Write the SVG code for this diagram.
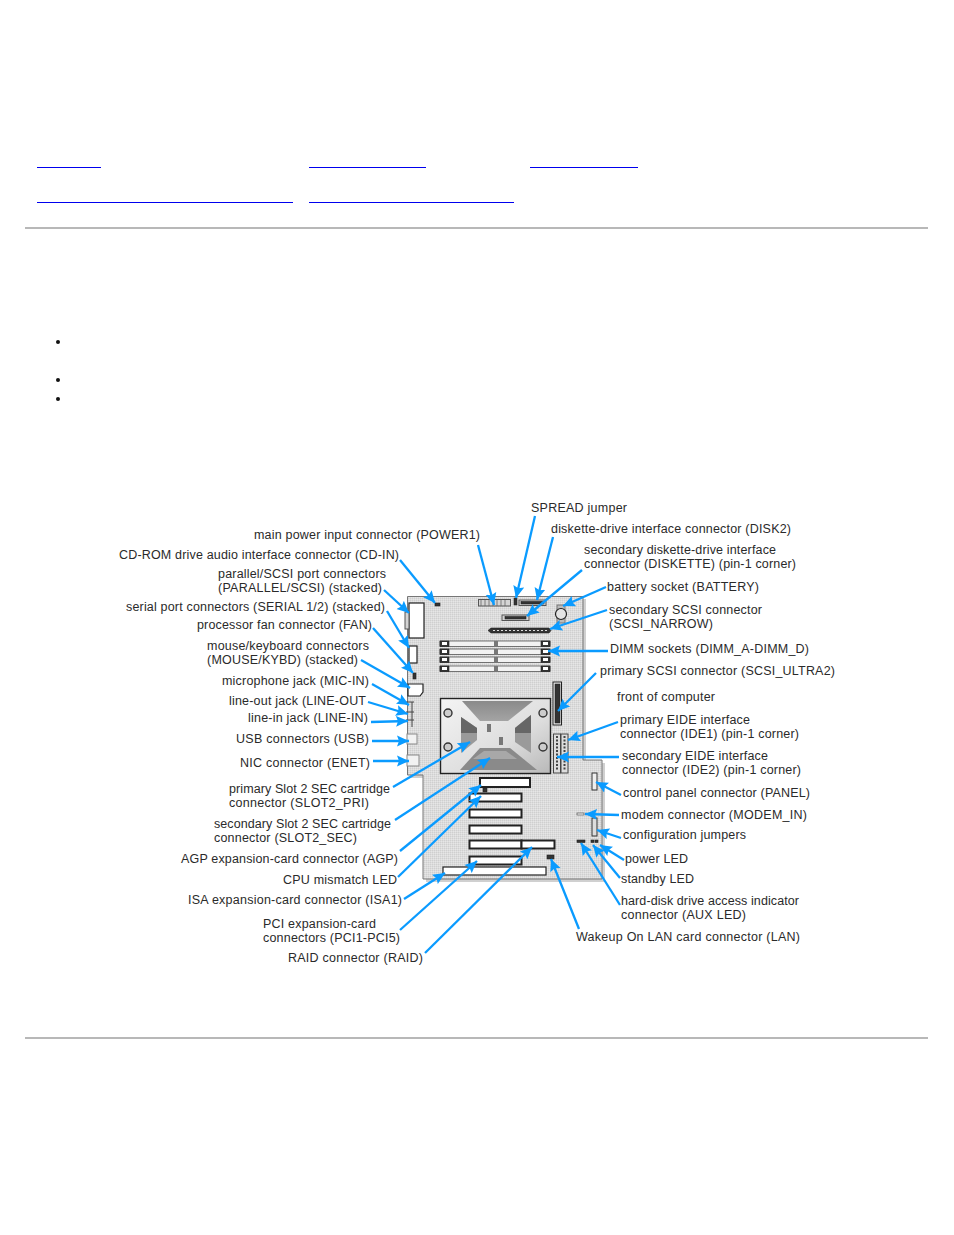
<svg xmlns="http://www.w3.org/2000/svg" width="954" height="1235" viewBox="0 0 954 1235">
<style>
.t{font-family:"Liberation Sans",Arial,sans-serif;font-size:12.5px;fill:#2a2a2a}
.c line{stroke:#0a9bff;stroke-width:2.3;marker-end:url(#a)}
.u{stroke:#0000ee;stroke-width:1;fill:none}
.hr{stroke:#a0a0a0;stroke-width:1.5}
.w{fill:#fff;stroke:#222;stroke-width:1.2}
.d{fill:#333;stroke:#222;stroke-width:.6}
.s{fill:#d4d4d4;stroke:#555;stroke-width:1}
</style>
<defs>
<marker id="a" markerUnits="userSpaceOnUse" markerWidth="13" markerHeight="12" refX="12" refY="6" orient="auto"><path d="M0,0.500L12,6L0,11.500L2,6Z" fill="#0a9bff"/></marker>
<pattern id="st" width="2" height="2" patternUnits="userSpaceOnUse"><rect width="2" height="2" fill="#dcdcdc"/><rect width="1" height="1" fill="#cfcfcf"/><rect x="1" y="1" width="1" height="1" fill="#e6e6e6"/></pattern>
<linearGradient id="sil" x1="0" y1="0" x2="1" y2="1"><stop offset="0" stop-color="#f4f4f4"/><stop offset=".6" stop-color="#dedede"/><stop offset="1" stop-color="#b8b8b8"/></linearGradient>
<linearGradient id="tr" x1="0" y1="0" x2="0" y2="1"><stop offset="0" stop-color="#8a8a8a"/><stop offset="1" stop-color="#a4a4a4"/></linearGradient>
</defs>
<rect width="954" height="1235" fill="#fff"/>
<g id="page">
<path class="u" d="M37,167.500H101M309,167.500H426M530,167.500H638M37,202.500H293M309,202.500H514"/>
<line class="hr" x1="25" y1="228" x2="928" y2="228"/>
<line class="hr" x1="25" y1="1038" x2="928" y2="1038"/>
<circle cx="58" cy="342" r="2" fill="#111"/>
<circle cx="58" cy="380" r="2" fill="#111"/>
<circle cx="58" cy="399" r="2" fill="#111"/>
</g>
<g id="board">
<path d="M410,599H586V763H605V882H426V778H410Z" fill="#d0d0d0"/>
<path d="M407.500,596.500H583V760H602V879H423V775H407.500Z" fill="url(#st)" stroke="#777" stroke-width="1"/>
<rect class="d" x="435" y="603" width="5" height="3"/>
<rect class="s" x="478.500" y="599.500" width="32" height="6.500"/>
<path d="M481,600V606M485,600V606M489,600V606M493,600V606M497,600V606M501,600V606M505,600V606" stroke="#666" stroke-width=".8"/>
<rect class="d" x="514" y="598" width="3" height="7"/>
<rect class="s" x="519" y="600" width="27" height="5.500"/><rect class="d" x="521" y="601.500" width="23" height="2.500"/>
<rect class="s" x="502" y="615" width="27" height="5.500"/><rect class="d" x="505" y="616.500" width="21" height="2.500"/>
<rect x="557" y="605" width="8" height="18" fill="#bbb" stroke="#777"/>
<circle cx="561" cy="614" r="5.500" fill="#e4e4e4" stroke="#222" stroke-width="1.200"/>
<path class="d" d="M491,628H549L551,630.500L549,633H491L488,630.500Z"/>
<path d="M493,630.500H547" stroke="#ddd" stroke-width="1" stroke-dasharray="2 2"/>
<g id="dimm-sockets">
<g fill="#f2f2f2" stroke="#555" stroke-width=".8">
<rect x="440" y="641" width="110" height="5.500"/>
<rect x="440" y="649" width="110" height="5.500"/>
<rect x="440" y="657" width="110" height="5.500"/>
<rect x="440" y="666" width="110" height="5.500"/>
</g>
<path class="d" d="M440,641h9v5.500h-9zM541,641h9v5.500h-9zM440,649h9v5.500h-9zM541,649h9v5.500h-9zM440,657h9v5.500h-9zM541,657h9v5.500h-9zM440,666h9v5.500h-9zM541,666h9v5.500h-9z"/>
<path fill="#fff" d="M442,642h5v3h-5zM543,642h5v3h-5zM442,650h5v3h-5zM543,650h5v3h-5zM442,658h5v3h-5zM543,658h5v3h-5zM442,667h5v3h-5zM543,667h5v3h-5z"/>
<path fill="#777" d="M494,641h4v6h-4zM494,649h4v6h-4zM494,657h4v6h-4zM494,666h4v6h-4z"/>
</g>
<rect x="553" y="682" width="8.500" height="43" fill="#eee" stroke="#222"/>
<rect class="d" x="555" y="684" width="5" height="39"/>
<rect x="553.500" y="734" width="7" height="39" fill="#ddd" stroke="#444"/>
<rect x="561" y="734" width="7" height="39" fill="#ddd" stroke="#444"/>
<path d="M557,736V771M564.500,736V771" stroke="#444" stroke-width="2" stroke-dasharray="2 1.500"/>
<rect class="w" x="409" y="603" width="15" height="35" stroke="#444"/>
<rect class="s" x="405" y="612" width="4" height="17"/>
<rect class="w" x="409" y="646" width="8" height="17" stroke="#777"/>
<rect class="d" x="413" y="673" width="3" height="6"/>
<path class="w" d="M408,684H423V692L420,696H408Z"/>
<path d="M406,702h8M406,712h8M406,720h8M412,702v25" stroke="#444" stroke-width="1" fill="none"/>
<rect x="407" y="734" width="10" height="10" fill="#f2f2f2" stroke="#888"/>
<rect x="407" y="755" width="12" height="11" fill="#f2f2f2" stroke="#888"/>
<g id="cpu-assembly">
<rect x="440.500" y="698.500" width="110" height="75" fill="url(#sil)" stroke="#222" stroke-width="1.400"/>
<path d="M462,701H533L508,721H480Z" fill="url(#tr)"/>
<path d="M480,748H510L537,770H460Z" fill="#8a8a8a"/>
<path d="M484,751H506L517,759H473Z" fill="#a8a8a8"/>
<path d="M461,717L477,728V740L461,753Z" fill="#9a9a9a"/>
<path d="M461,717L477,728V733H461Z" fill="#666"/>
<path d="M531,715L515,728V742L531,753Z" fill="#9a9a9a"/>
<path d="M531,715L515,728V733H531Z" fill="#666"/>
<g fill="#ccc" stroke="#333" stroke-width="1.400">
<circle cx="448" cy="713" r="4"/><circle cx="448" cy="747" r="4"/><circle cx="543" cy="713" r="4"/><circle cx="543" cy="747" r="4"/>
</g>
<rect x="487" y="724" width="4" height="8" fill="#777"/>
<rect x="499" y="737" width="4" height="8" fill="#777"/>
</g>
<g class="w" stroke-width="2">
<rect class="w" x="480" y="778" width="50" height="9" style="stroke-width:2"/>
<rect class="w" x="469.500" y="793.500" width="52" height="8" style="stroke-width:2"/>
<rect class="w" x="469.500" y="809.500" width="52" height="8" style="stroke-width:2"/>
<rect class="w" x="469.500" y="825.500" width="52" height="8" style="stroke-width:2"/>
<rect class="w" x="469.500" y="840.500" width="52" height="8" style="stroke-width:2"/>
<rect class="w" x="521.500" y="840.500" width="33" height="8" style="stroke-width:2"/>
<rect class="w" x="469.500" y="856.500" width="52" height="8" style="stroke-width:2"/>
</g>
<rect class="w" x="443" y="867" width="103" height="8"/>
<rect class="d" x="483" y="788" width="4" height="4"/>
<rect class="d" x="547" y="855" width="7" height="4"/>
<rect x="592" y="773" width="5" height="17" fill="#eee" stroke="#333"/>
<rect x="577" y="813" width="7" height="2" fill="#eee" stroke="#444" stroke-width=".6"/>
<rect x="592" y="818" width="5" height="18" fill="#ddd" stroke="#333"/>
<rect class="d" x="577" y="840" width="8" height="2.500"/>
<rect class="d" x="591" y="840" width="3" height="2.500"/>
<rect class="d" x="595" y="840" width="3" height="2.500"/>
</g>
<g id="connectors" class="c">
<line x1="478" y1="545" x2="494" y2="605"/>
<line x1="535" y1="516" x2="516" y2="598"/>
<line x1="553" y1="537" x2="537" y2="600"/>
<line x1="582" y1="570" x2="527" y2="616"/>
<line x1="606" y1="587" x2="563" y2="606"/>
<line x1="607" y1="610" x2="550" y2="629"/>
<line x1="608" y1="651" x2="548" y2="651"/>
<line x1="596" y1="673" x2="558" y2="711"/>
<line x1="618" y1="722" x2="568" y2="740"/>
<line x1="619" y1="757" x2="557" y2="757"/>
<line x1="621" y1="795" x2="596" y2="782"/>
<line x1="619" y1="815" x2="585" y2="814"/>
<line x1="621" y1="838" x2="597" y2="830"/>
<line x1="624" y1="860" x2="600" y2="845"/>
<line x1="620" y1="878" x2="593" y2="845"/>
<line x1="620" y1="905" x2="581" y2="843"/>
<line x1="579" y1="929" x2="551" y2="859"/>
<line x1="400" y1="560" x2="435" y2="603"/>
<line x1="384" y1="590" x2="409" y2="613"/>
<line x1="387" y1="611" x2="409" y2="648"/>
<line x1="373" y1="628" x2="413" y2="673"/>
<line x1="361" y1="660" x2="410" y2="688"/>
<line x1="372" y1="684" x2="409" y2="705"/>
<line x1="368" y1="702" x2="408" y2="714"/>
<line x1="371" y1="722" x2="408" y2="721"/>
<line x1="372" y1="741" x2="409" y2="741"/>
<line x1="373" y1="761" x2="409" y2="761"/>
<line x1="393" y1="787" x2="470" y2="742"/>
<line x1="395" y1="820" x2="490" y2="758"/>
<line x1="400" y1="851" x2="481" y2="785"/>
<line x1="398" y1="877" x2="481" y2="796"/>
<line x1="404" y1="899" x2="445" y2="873"/>
<line x1="400" y1="930" x2="477" y2="861"/>
<line x1="425" y1="953" x2="532" y2="847"/>
</g>
<g id="labels-right">
<g id="spread"><text class="t" x="531" y="512" textLength="96">SPREAD jumper</text></g>
<g id="disk2"><text class="t" x="551" y="533" textLength="240">diskette-drive interface connector (DISK2)</text></g>
<g id="diskette"><text class="t" x="584" y="554" textLength="192">secondary diskette-drive interface</text><text class="t" x="584" y="568" textLength="212">connector (DISKETTE) (pin-1 corner)</text></g>
<g id="battery"><text class="t" x="607" y="591" textLength="152">battery socket (BATTERY)</text></g>
<g id="scsi-narrow"><text class="t" x="609" y="614" textLength="153">secondary SCSI connector</text><text class="t" x="609" y="628" textLength="104">(SCSI_NARROW)</text></g>
<g id="dimm"><text class="t" x="610" y="653" textLength="199">DIMM sockets (DIMM_A-DIMM_D)</text></g>
<g id="scsi-ultra2"><text class="t" x="600" y="675" textLength="235">primary SCSI connector (SCSI_ULTRA2)</text></g>
<g id="front"><text class="t" x="617" y="701" textLength="98">front of computer</text></g>
<g id="ide1"><text class="t" x="620" y="724" textLength="130">primary EIDE interface</text><text class="t" x="620" y="738" textLength="179">connector (IDE1) (pin-1 corner)</text></g>
<g id="ide2"><text class="t" x="622" y="760" textLength="146">secondary EIDE interface</text><text class="t" x="622" y="774" textLength="179">connector (IDE2) (pin-1 corner)</text></g>
<g id="panel"><text class="t" x="623" y="797" textLength="187">control panel connector (PANEL)</text></g>
<g id="modem"><text class="t" x="621" y="819" textLength="186">modem connector (MODEM_IN)</text></g>
<g id="config"><text class="t" x="623" y="839" textLength="123">configuration jumpers</text></g>
<g id="power-led"><text class="t" x="625" y="863" textLength="63">power LED</text></g>
<g id="standby-led"><text class="t" x="621" y="883" textLength="73">standby LED</text></g>
<g id="aux-led"><text class="t" x="621" y="905" textLength="178">hard-disk drive access indicator</text><text class="t" x="621" y="919" textLength="125">connector (AUX LED)</text></g>
<g id="lan"><text class="t" x="576" y="941" textLength="224">Wakeup On LAN card connector (LAN)</text></g>
</g>
<g id="labels-left">
<g id="power1"><text class="t" x="254" y="539" textLength="226">main power input connector (POWER1)</text></g>
<g id="cd-in"><text class="t" x="119" y="559" textLength="280">CD-ROM drive audio interface connector (CD-IN)</text></g>
<g id="parallel"><text class="t" x="218" y="578" textLength="168">parallel/SCSI port connectors</text><text class="t" x="218" y="592" textLength="164">(PARALLEL/SCSI) (stacked)</text></g>
<g id="serial"><text class="t" x="126" y="611" textLength="259">serial port connectors (SERIAL 1/2) (stacked)</text></g>
<g id="fan"><text class="t" x="197" y="629" textLength="175">processor fan connector (FAN)</text></g>
<g id="mouse"><text class="t" x="207" y="650" textLength="162">mouse/keyboard connectors</text><text class="t" x="207" y="664" textLength="151">(MOUSE/KYBD) (stacked)</text></g>
<g id="mic"><text class="t" x="222" y="685" textLength="147">microphone jack (MIC-IN)</text></g>
<g id="line-out"><text class="t" x="229" y="705" textLength="137">line-out jack (LINE-OUT</text></g>
<g id="line-in"><text class="t" x="248" y="722" textLength="120">line-in jack (LINE-IN)</text></g>
<g id="usb"><text class="t" x="236" y="743" textLength="133">USB connectors (USB)</text></g>
<g id="enet"><text class="t" x="240" y="767" textLength="130">NIC connector (ENET)</text></g>
<g id="slot2-pri"><text class="t" x="229" y="793" textLength="161">primary Slot 2 SEC cartridge</text><text class="t" x="229" y="807" textLength="140">connector (SLOT2_PRI)</text></g>
<g id="slot2-sec"><text class="t" x="214" y="828" textLength="177">secondary Slot 2 SEC cartridge</text><text class="t" x="214" y="842" textLength="143">connector (SLOT2_SEC)</text></g>
<g id="agp"><text class="t" x="181" y="863" textLength="217">AGP expansion-card connector (AGP)</text></g>
<g id="cpu-led"><text class="t" x="283" y="884" textLength="114">CPU mismatch LED</text></g>
<g id="isa1"><text class="t" x="188" y="904" textLength="214">ISA expansion-card connector (ISA1)</text></g>
<g id="pci"><text class="t" x="263" y="928" textLength="113">PCI expansion-card</text><text class="t" x="263" y="942" textLength="137">connectors (PCI1-PCI5)</text></g>
<g id="raid"><text class="t" x="288" y="962" textLength="135">RAID connector (RAID)</text></g>
</g>
</svg>
